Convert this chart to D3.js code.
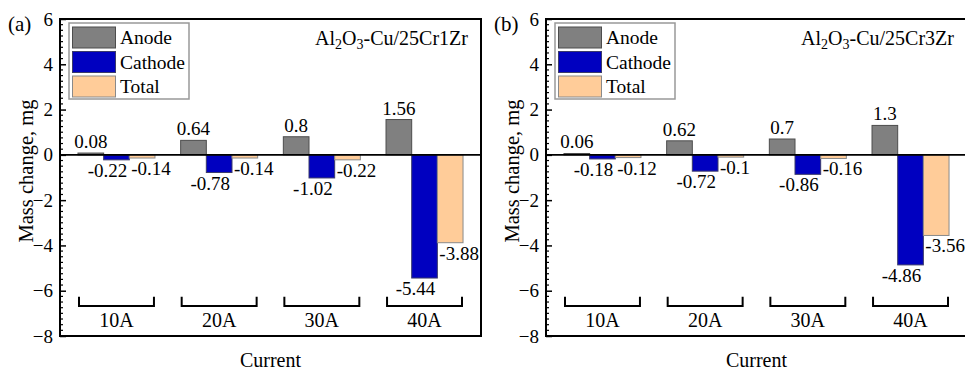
<!DOCTYPE html>
<html lang="en">
<head>
  <meta charset="UTF-8">
  <title>Mass change vs current</title>
  <style>
    body { margin: 0; background: #fff; }
    svg text { font-family: "Liberation Serif", "Times New Roman", Times, "DejaVu Serif", serif; }
    .bar-anode { fill: #808080; stroke: #4d4d4d; stroke-width: 1; }
    .bar-cathode { fill: #0000c0; stroke: #3a3a6a; stroke-width: 1; }
    .bar-total { fill: #ffcc99; stroke: #8a8a8a; stroke-width: 1; }
  </style>
</head>
<body>
  <div id="chart"></div>
  <script src="https://d3js.org/d3.v7.min.js"></script>
  <script>
    // data
    const categories = ["10A", "20A", "30A", "40A"];
    const anodeA = [0.08, 0.64, 0.8, 1.56];
    const cathodeA = [-0.22, -0.78, -1.02, -5.44];
    const totalA = [-0.14, -0.14, -0.22, -3.88];
    const anodeB = [0.06, 0.62, 0.7, 1.3];
    const cathodeB = [-0.18, -0.72, -0.86, -4.86];
    const totalB = [-0.12, -0.1, -0.16, -3.56];
    const yTicks = [-8, -6, -4, -2, 0, 2, 4, 6];
    const seriesNames = ["Anode", "Cathode", "Total"];
    const seriesClass = ["bar-anode", "bar-cathode", "bar-total"];

    const width = 965, height = 370;
    const plotW = 421, plotTop = 19, plotBottom = 336;

    const svg = d3.select("#chart")
      .append("svg")
      .attr("width", width)
      .attr("height", height);

    const panels = [
      { left: 60, tag: "(a)", alloy: "25Cr1Zr", series: [anodeA, cathodeA, totalA] },
      { left: 546, tag: "(b)", alloy: "25Cr3Zr", series: [anodeB, cathodeB, totalB] }
    ];

    panels.forEach(p => drawPanel(p));

    function drawPanel(p) {
      const g = svg.append("g").attr("transform", `translate(${p.left},0)`);

      const x = d3.scaleLinear().domain([0.45, 4.55]).range([0, plotW]);
      const y = d3.scaleLinear().domain([-8, 6]).range([plotBottom, plotTop]);
      const bw = 0.25; // bar width in category units

      // minor ticks (inside)
      const minor = d3.range(-8, 6.001, 0.25).filter(v => !yTicks.includes(v));
      g.append("g")
        .selectAll("line")
        .data(minor)
        .join("line")
        .attr("x1", 0).attr("x2", 3)
        .attr("y1", d => y(d)).attr("y2", d => y(d))
        .attr("stroke", "#000").attr("stroke-width", 1.2);

      // y axis with inward major ticks
      const yAxis = g.append("g")
        .call(d3.axisLeft(y).tickValues(yTicks).tickSize(-6).tickPadding(7).tickFormat(d3.format("d")));
      yAxis.attr("font-family", null);
      yAxis.select(".domain").remove();
      yAxis.selectAll(".tick line").attr("stroke-width", 1.5);
      yAxis.selectAll(".tick text")
        .attr("font-size", 19)
        .attr("fill", "#000");

      // frame
      g.append("rect")
        .attr("x", 0).attr("y", plotTop)
        .attr("width", plotW).attr("height", plotBottom - plotTop)
        .attr("fill", "none").attr("stroke", "#000").attr("stroke-width", 2);

      // bars
      p.series.forEach((vals, si) => {
        const off = -1.5 * bw + si * bw;
        g.append("g")
          .selectAll("rect")
          .data(vals)
          .join("rect")
          .attr("class", seriesClass[si])
          .attr("x", (d, i) => x(i + 1 + off))
          .attr("width", x(bw) - x(0))
          .attr("y", d => Math.min(y(d), y(0)))
          .attr("height", d => Math.abs(y(d) - y(0)));

        // value labels
        g.append("g")
          .selectAll("text")
          .data(vals)
          .join("text")
          .attr("font-size", 19)
          .attr("x", (d, i) => {
            if (si === 0) return x(i + 1 + off + bw / 2);
            if (si === 1) return x(i + 1 + off + bw) - 2;
            return x(i + 1 + off) + 2;
          })
          .attr("text-anchor", si === 0 ? "middle" : si === 1 ? "end" : "start")
          .attr("y", d => d >= 0 ? y(d) - 5 : y(d) + 17)
          .text(d => String(d));
      });

      // zero line
      g.append("line")
        .attr("x1", 0).attr("x2", plotW)
        .attr("y1", y(0)).attr("y2", y(0))
        .attr("stroke", "#000").attr("stroke-width", 1.8);

      // category brackets
      const br = g.append("g")
        .selectAll("g")
        .data(categories)
        .join("g");
      br.append("path")
        .attr("d", (d, i) => {
          const x0 = x(i + 1 - 0.365), x1 = x(i + 1 + 0.365);
          const yb = y(-6.67), yt = y(-6.27);
          return `M${x0},${yt}V${yb}H${x1}V${yt}`;
        })
        .attr("fill", "none").attr("stroke", "#000").attr("stroke-width", 2);
      br.append("text")
        .attr("x", (d, i) => x(i + 1))
        .attr("y", y(-6.67) + 21)
        .attr("text-anchor", "middle")
        .attr("font-size", 20)
        .text(d => d);

      // legend
      const lg = g.append("g").attr("transform", `translate(9,23)`);
      lg.append("rect")
        .attr("width", 120).attr("height", 76)
        .attr("fill", "#fff").attr("stroke", "#999").attr("stroke-width", 1.5);
      seriesNames.forEach((name, si) => {
        lg.append("rect")
          .attr("class", seriesClass[si])
          .attr("x", 3.5).attr("y", 4 + si * 24.5)
          .attr("width", 43).attr("height", 21)
          .attr("stroke-width", 1.2);
        lg.append("text")
          .attr("x", 51).attr("y", 21 + si * 24.5)
          .attr("font-size", 19.5)
          .text(name);
      });

      // alloy annotation
      const t = g.append("text")
        .attr("x", plotW - 13).attr("y", 45)
        .attr("text-anchor", "end")
        .attr("font-size", 20);
      t.append("tspan").text("Al");
      t.append("tspan").attr("font-size", 14).attr("dy", 4).text("2");
      t.append("tspan").attr("dy", -4).text("O");
      t.append("tspan").attr("font-size", 14).attr("dy", 4).text("3");
      t.append("tspan").attr("dy", -4).text("-Cu/" + p.alloy);

      // panel tag
      g.append("text")
        .attr("x", -52).attr("y", 31)
        .attr("font-size", 21)
        .text(p.tag);

      // axis titles
      g.append("text")
        .attr("transform", `translate(-27,171) rotate(-90)`)
        .attr("text-anchor", "middle")
        .attr("font-size", 20.5)
        .text("Mass change, mg");
      g.append("text")
        .attr("x", plotW / 2).attr("y", 367)
        .attr("text-anchor", "middle")
        .attr("font-size", 20)
        .text("Current");
    }
  </script>
</body>
</html>
